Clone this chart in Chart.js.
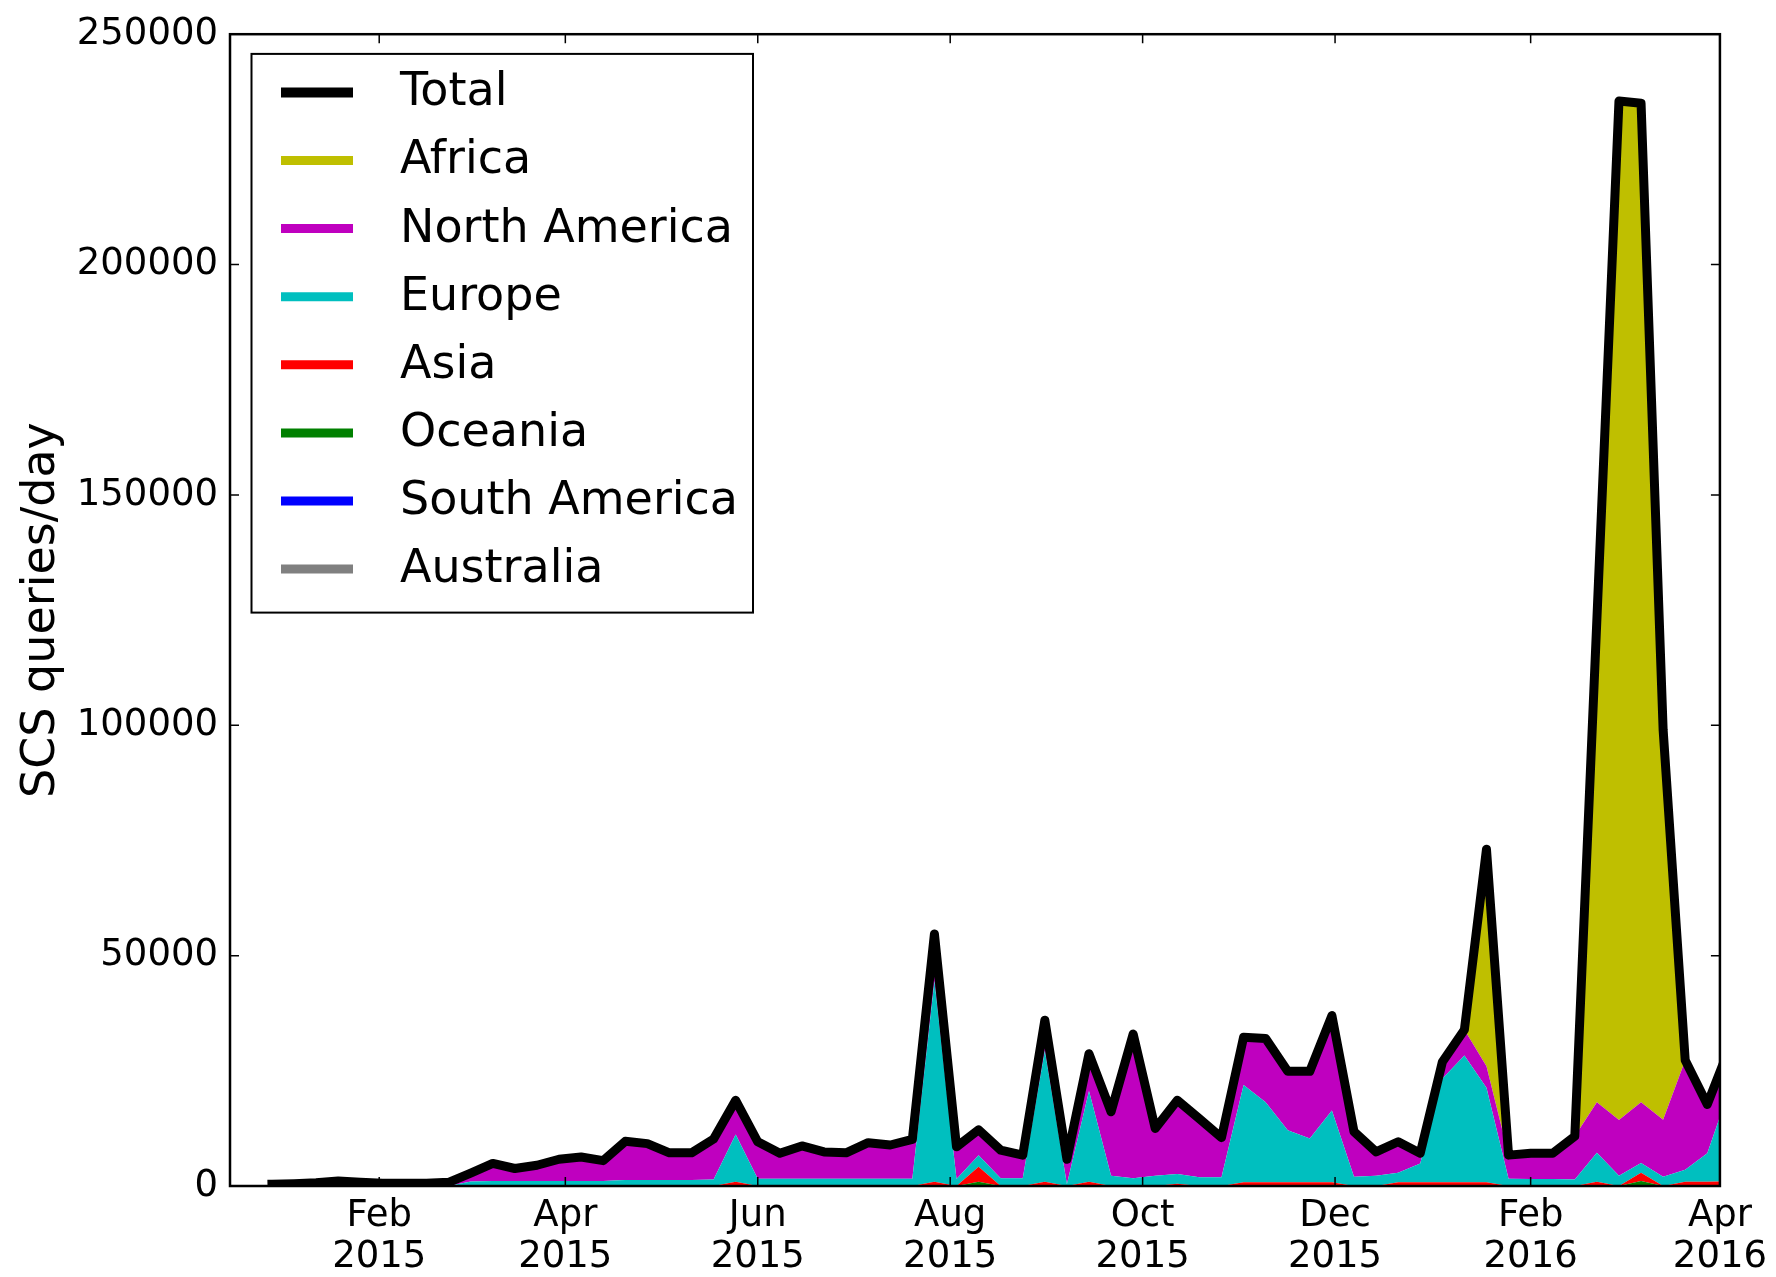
<!DOCTYPE html>
<html><head><meta charset="utf-8">
<script src="https://cdn.jsdelivr.net/npm/chart.js@4.4.1/dist/chart.umd.min.js"></script>
<style>html,body{margin:0;padding:0;background:#fff;}canvas{display:block;}</style>
</head><body>
<canvas id="c" width="1776" height="1277"></canvas>
<script>
// ---- data (weekly, week start dates) ----
const weeks = ['2014-12-29','2015-01-05','2015-01-12','2015-01-19','2015-01-26','2015-02-02','2015-02-09','2015-02-16','2015-02-23','2015-03-02',
 '2015-03-09','2015-03-16','2015-03-23','2015-03-30','2015-04-06','2015-04-13','2015-04-20','2015-04-27','2015-05-04','2015-05-11',
 '2015-05-18','2015-05-25','2015-06-01','2015-06-08','2015-06-15','2015-06-22','2015-06-29','2015-07-06','2015-07-13','2015-07-20',
 '2015-07-27','2015-08-03','2015-08-10','2015-08-17','2015-08-24','2015-08-31','2015-09-07','2015-09-14','2015-09-21','2015-09-28',
 '2015-10-05','2015-10-12','2015-10-19','2015-10-26','2015-11-02','2015-11-09','2015-11-16','2015-11-23','2015-11-30','2015-12-07',
 '2015-12-14','2015-12-21','2015-12-28','2016-01-04','2016-01-11','2016-01-18','2016-01-25','2016-02-01','2016-02-08','2016-02-15',
 '2016-02-22','2016-02-29','2016-03-07','2016-03-14','2016-03-21','2016-03-28','2016-04-04'];

const total = [400,500,700,1100,800,600,600,600,800,2800,
 4900,3800,4500,5800,6300,5500,9700,9200,7200,7200,
 10200,18600,9600,7100,8700,7400,7200,9400,8900,10100,
 54700,8500,12200,7800,6700,36000,5800,28700,16100,33000,
 12500,18600,14600,10500,32300,32000,24900,24900,37000,11800,
 7400,9600,7100,26900,33900,73100,6700,7100,7100,10800,
 123000,235500,235000,99000,27300,17700,30000];

const africa = [0,0,0,0,0,0,0,0,0,0,
 0,0,0,0,0,0,0,0,0,0,
 0,0,0,0,0,0,0,0,0,0,
 0,0,0,0,0,0,0,0,0,0,
 0,0,0,0,0,0,0,0,0,0,
 0,0,0,0,0,47100,0,0,0,0,
 104800,221200,216800,84600,0,0,4000];

const northAmerica = [400,500,700,1100,800,600,600,600,800,1800,
 3800,2700,3400,4700,5200,4400,8400,7900,5900,5900,
 8800,7400,8000,5500,7100,5800,5600,7800,7300,8500,
 10200,7000,5500,6100,5000,6600,5400,8100,13900,31300,
 10300,16000,12700,8600,10400,13800,12800,14600,20600,9800,
 5200,6700,2200,3600,5600,4700,5100,5600,5600,9400,
 11000,12100,13200,12400,23800,10600,5000];

const europe = [0,0,0,0,0,0,0,0,0,1000,
 1100,1100,1100,1100,1100,1100,1300,1300,1300,1300,
 1400,10300,1600,1600,1600,1600,1600,1600,1600,1600,
 43600,1500,2500,1700,1700,28500,400,19700,2200,1700,
 2200,2100,1900,1900,21100,17400,11300,9500,15600,2000,
 2200,2100,4100,22500,27500,20500,1600,1500,1500,1400,
 6300,2200,2100,2000,2600,6200,20000];

const asia = [0,0,0,0,0,0,0,0,0,0,
 0,0,0,0,0,0,0,0,0,0,
 0,900,0,0,0,0,0,0,0,0,
 900,0,3300,0,0,900,0,900,0,0,
 0,500,0,0,800,800,800,800,800,0,
 0,800,800,800,800,800,0,0,0,0,
 900,0,1800,0,900,900,1000];

const oceania = [0,0,0,0,0,0,0,0,0,0,
 0,0,0,0,0,0,0,0,0,0,
 0,0,0,0,0,0,0,0,0,0,
 0,0,900,0,0,0,0,0,0,0,
 0,0,0,0,0,0,0,0,0,0,
 0,0,0,0,0,0,0,0,0,0,
 0,0,1100,0,0,0,0];

const southAmerica = [0,0,0,0,0,0,0,0,0,0,
 0,0,0,0,0,0,0,0,0,0,
 0,0,0,0,0,0,0,0,0,0,
 0,0,0,0,0,0,0,0,0,0,
 0,0,0,0,0,0,0,0,0,0,
 0,0,0,0,0,0,0,0,0,0,
 0,0,0,0,0,0,0];

const australia = [0,0,0,0,0,0,0,0,0,0,
 0,0,0,0,0,0,0,0,0,0,
 0,0,0,0,0,0,0,0,0,0,
 0,0,0,0,0,0,0,0,0,0,
 0,0,0,0,0,0,0,0,0,0,
 0,0,0,0,0,0,0,0,0,0,
 0,0,0,0,0,0,0];

const tickDates = ['2015-02-01','2015-04-01','2015-06-01','2015-08-01','2015-10-01','2015-12-01','2016-02-01','2016-04-01'];
const tickMonths = ['Feb','Apr','Jun','Aug','Oct','Dec','Feb','Apr'];
const tickYears = ['2015','2015','2015','2015','2015','2015','2016','2016'];
const yTicks = [0,50000,100000,150000,200000,250000];
const xMinDate = '2014-12-16';

// ---- helpers ----
const DAY0 = Date.UTC(2015,0,1);
function dayNum(s){const p=s.split('-').map(Number);return (Date.UTC(p[0],p[1]-1,p[2])-DAY0)/86400000;}
const xs = weeks.map(dayNum);
const tickDays = tickDates.map(dayNum);
function pts(arr){return arr.map((v,i)=>({x:xs[i],y:v}));}

const FONT = '"DejaVu Sans", "Liberation Sans", sans-serif';

const regions = [
  ['Australia', australia, '#808080'],
  ['South America', southAmerica, '#0000ff'],
  ['Oceania', oceania, '#008000'],
  ['Asia', asia, '#ff0000'],
  ['Europe', europe, '#00bfbf'],
  ['North America', northAmerica, '#bf00bf'],
  ['Africa', africa, '#bfbf00']
];

const datasets = [{
  label:'Total', data:pts(total), stack:'total', borderColor:'#000', backgroundColor:'#000',
  borderWidth:9, fill:false, pointRadius:0, borderCapStyle:'square', borderJoinStyle:'round', clip:0, tension:0
}];
regions.forEach((r,j)=>{
  datasets.push({label:r[0], data:pts(r[1]), stack:'regions', backgroundColor:r[2], borderColor:'rgba(0,0,0,0)',
    borderWidth:0, fill: j===0?'origin':'-1', pointRadius:0, clip:0, tension:0});
});

const legendEntries = [['Total','#000000'],['Africa','#bfbf00'],['North America','#bf00bf'],['Europe','#00bfbf'],
  ['Asia','#ff0000'],['Oceania','#008000'],['South America','#0000ff'],['Australia','#808080']];

const framePlugin = {
  id:'frame',
  afterDatasetsDraw(chart){
    const {ctx, chartArea:a, scales:{x,y}} = chart;
    ctx.save();
    ctx.strokeStyle='#000';
    ctx.lineWidth=1.5;
    ctx.beginPath();
    yTicks.forEach(v=>{const py=y.getPixelForValue(v);
      ctx.moveTo(a.left,py);ctx.lineTo(a.left+9,py);ctx.moveTo(a.right,py);ctx.lineTo(a.right-9,py);});
    tickDays.forEach(d=>{const px=x.getPixelForValue(d);
      ctx.moveTo(px,a.bottom);ctx.lineTo(px,a.bottom-9);ctx.moveTo(px,a.top);ctx.lineTo(px,a.top+9);});
    ctx.stroke();
    ctx.lineWidth=2.5;
    ctx.strokeRect(a.left,a.top,a.right-a.left,a.bottom-a.top);
    ctx.restore();
  },
  afterDraw(chart){
    const {ctx, chartArea:a} = chart;
    const bx=a.left+21.5, by=a.top+19.7, bw=501.5, bh=558.7;
    ctx.save();
    ctx.fillStyle='#fff';ctx.fillRect(bx,by,bw,bh);
    ctx.strokeStyle='#000';ctx.lineWidth=2;ctx.strokeRect(bx,by,bw,bh);
    ctx.font='46px '+FONT;ctx.textBaseline='middle';ctx.textAlign='left';
    legendEntries.forEach((e,i)=>{
      const yy=by+38.5+i*68.1;
      ctx.strokeStyle=e[1];ctx.lineWidth=i===0?10:9;ctx.lineCap='butt';
      ctx.beginPath();ctx.moveTo(bx+29.5,yy);ctx.lineTo(bx+101.5,yy);ctx.stroke();
      ctx.fillStyle='#000';ctx.fillText(e[0],bx+148.5,yy+1);
    });
    ctx.restore();
  }
};

new Chart(document.getElementById('c'),{
  type:'line',
  data:{datasets},
  options:{
    responsive:false, animation:false, devicePixelRatio:1,
    layout:{padding:{left:0,right:54,top:31,bottom:0}},
    plugins:{legend:{display:false},tooltip:{enabled:false}},
    elements:{point:{radius:0}},
    scales:{
      x:{type:'linear', position:'bottom', min:dayNum(xMinDate)-0.3, max:tickDays[tickDays.length-1],
        grid:{display:false,drawTicks:false}, border:{display:false},
        afterBuildTicks:(s)=>{s.ticks=tickDays.map(v=>({value:v}));},
        afterFit:(s)=>{s.height=91;},
        ticks:{autoSkip:false,maxRotation:0,minRotation:0,padding:9,color:'#000',
          font:{family:FONT,size:37,lineHeight:1.13},
          callback:(v)=>{const i=tickDays.indexOf(v);return i<0?'':[tickMonths[i],tickYears[i]];}}
      },
      y:{type:'linear', stacked:true, min:0, max:250000,
        grid:{display:false,drawTicks:false}, border:{display:false},
        afterBuildTicks:(s)=>{s.ticks=yTicks.map(v=>({value:v}));},
        afterFit:(s)=>{s.width=230;},
        ticks:{padding:12,color:'#000',font:{family:FONT,size:37},callback:(v)=>String(v)},
        title:{display:true,text:'SCS queries/day',color:'#000',font:{family:FONT,size:46},padding:{top:14.4,bottom:0}}
      }
    }
  },
  plugins:[framePlugin]
});
</script>
</body></html>
